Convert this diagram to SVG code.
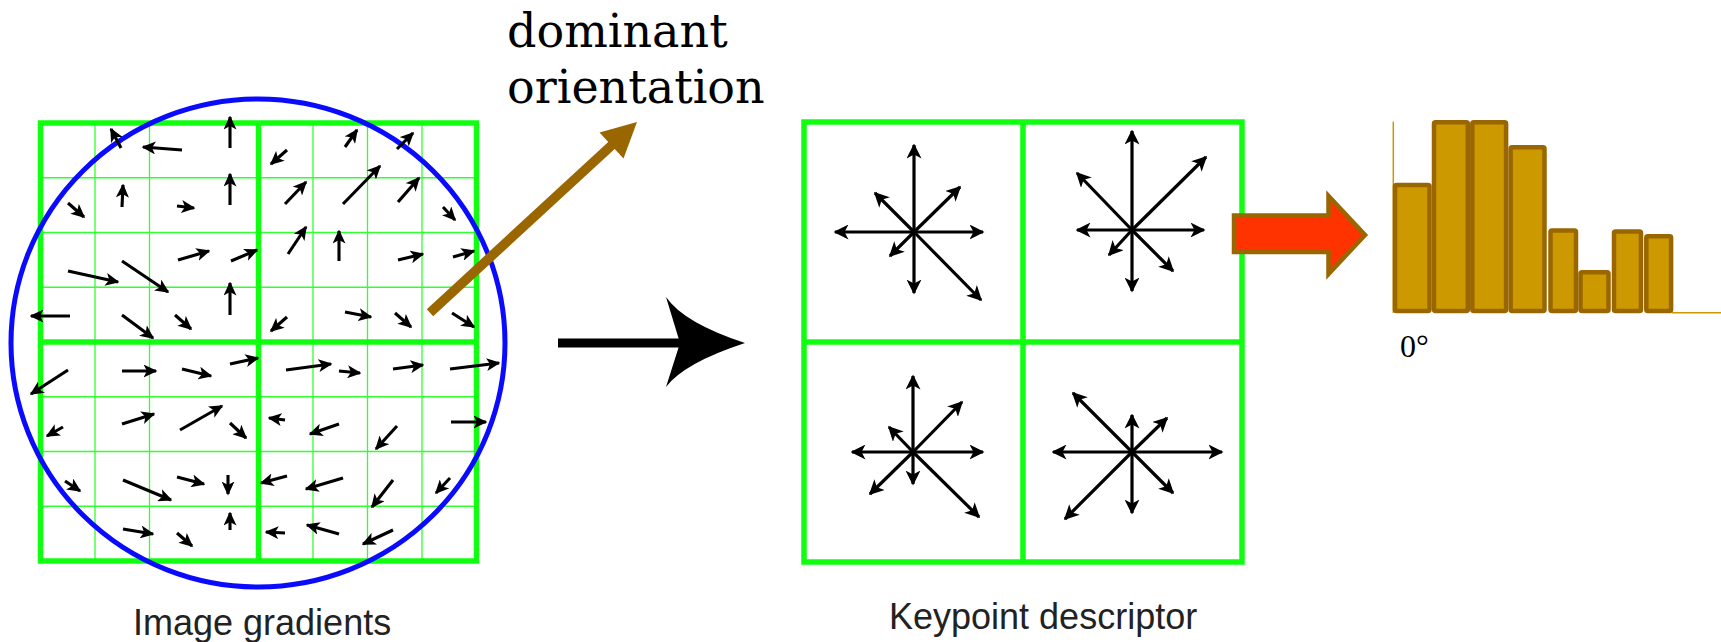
<svg xmlns="http://www.w3.org/2000/svg" width="1721" height="642" viewBox="0 0 1721 642">
  <style>
    .thick { stroke: #10ff10; stroke-width: 5.5; fill: none; }
    .thin { stroke: #30ff30; stroke-width: 1.3; fill: none; }
    .grad line { stroke: #000; stroke-width: 3.1; marker-end: url(#ah); }
    .star line { stroke: #000; stroke-width: 3.2; marker-end: url(#ahBig); }
    .bar { fill: #cc9900; stroke: #996600; stroke-width: 4.5; stroke-linejoin: round; }
    .axis { stroke: #cc9900; stroke-width: 1.5; }
    .caption { font-family: "Liberation Sans", Arial, sans-serif; font-size: 36px; fill: #222; }
    .serif { font-family: "DejaVu Serif", "Liberation Serif", serif; fill: #000; }
  </style>
  <defs>
    <marker id="ah" viewBox="0 0 14 13" refX="12.5" refY="6.5" markerWidth="14" markerHeight="13" markerUnits="userSpaceOnUse" orient="auto">
      <path d="M0,0 L14,6.5 L0,13 L3.5,6.5 Z" fill="#000"/>
    </marker>
    <marker id="ahBig" viewBox="0 0 15 15" refX="13.5" refY="7.5" markerWidth="15" markerHeight="15" markerUnits="userSpaceOnUse" orient="auto">
      <path d="M0,0 L15,7.5 L0,15 L4,7.5 Z" fill="#000"/>
    </marker>
  </defs>
  <rect width="1721" height="642" fill="#fff"/>

  <!-- sample grid of image gradients -->
  <g id="gradient-patch">
    <g class="thin">
      <path d="M95,123V561 M149.5,123V561 M313,123V561 M367.5,123V561 M422,123V561"/>
      <path d="M40.5,177.75H476.5 M40.5,232.5H476.5 M40.5,287.25H476.5 M40.5,396.75H476.5 M40.5,451.5H476.5 M40.5,506.25H476.5"/>
    </g>
    <g class="thick">
      <rect x="40.5" y="123" width="436" height="438"/>
      <path d="M258.5,123V561 M40.5,342H476.5"/>
    </g>
    <ellipse cx="258" cy="343" rx="247" ry="244" fill="none" stroke="#0a0aff" stroke-width="5"/>
    <g class="grad">
      <line x1="121" y1="148" x2="111" y2="129"/>
      <line x1="182" y1="150" x2="143" y2="147"/>
      <line x1="230" y1="148" x2="230" y2="117"/>
      <line x1="287" y1="150" x2="271" y2="164"/>
      <line x1="345" y1="147" x2="357" y2="130"/>
      <line x1="397" y1="149" x2="413" y2="133"/>

      <line x1="68" y1="203" x2="84" y2="217"/>
      <line x1="122" y1="207" x2="123" y2="185"/>
      <line x1="177" y1="206" x2="194" y2="208"/>
      <line x1="230" y1="205" x2="230" y2="174"/>
      <line x1="285" y1="204" x2="306" y2="182"/>
      <line x1="343" y1="204" x2="380" y2="166"/>
      <line x1="398" y1="202" x2="419" y2="178"/>
      <line x1="443" y1="207" x2="455" y2="220"/>

      <line x1="68" y1="271" x2="118" y2="282"/>
      <line x1="122" y1="261" x2="168" y2="292"/>
      <line x1="178" y1="260" x2="209" y2="251"/>
      <line x1="231" y1="261" x2="257" y2="250"/>
      <line x1="288" y1="254" x2="306" y2="227"/>
      <line x1="339" y1="261" x2="339" y2="231"/>
      <line x1="398" y1="260" x2="423" y2="254"/>
      <line x1="453" y1="257" x2="474" y2="251"/>

      <line x1="70" y1="316" x2="31" y2="316"/>
      <line x1="122" y1="315" x2="153" y2="338"/>
      <line x1="175" y1="315" x2="191" y2="329"/>
      <line x1="230" y1="315" x2="230" y2="283"/>
      <line x1="287" y1="317" x2="271" y2="331"/>
      <line x1="345" y1="312" x2="371" y2="317"/>
      <line x1="395" y1="313" x2="411" y2="327"/>
      <line x1="452" y1="313" x2="474" y2="327"/>

      <line x1="68" y1="370" x2="31" y2="394"/>
      <line x1="122" y1="371" x2="156" y2="371"/>
      <line x1="182" y1="369" x2="211" y2="376"/>
      <line x1="230" y1="364" x2="258" y2="358"/>
      <line x1="286" y1="370" x2="331" y2="364"/>
      <line x1="339" y1="371" x2="360" y2="373"/>
      <line x1="393" y1="369" x2="423" y2="365"/>
      <line x1="450" y1="369" x2="499" y2="363"/>

      <line x1="63" y1="427" x2="47" y2="436"/>
      <line x1="122" y1="424" x2="154" y2="414"/>
      <line x1="180" y1="430" x2="222" y2="406"/>
      <line x1="230" y1="423" x2="246" y2="438"/>
      <line x1="285" y1="420" x2="269" y2="418"/>
      <line x1="339" y1="424" x2="310" y2="434"/>
      <line x1="397" y1="426" x2="376" y2="449"/>
      <line x1="451" y1="422" x2="486" y2="422"/>

      <line x1="65" y1="481" x2="80" y2="491"/>
      <line x1="123" y1="480" x2="171" y2="500"/>
      <line x1="177" y1="477" x2="204" y2="484"/>
      <line x1="228" y1="475" x2="228" y2="494"/>
      <line x1="287" y1="476" x2="261" y2="483"/>
      <line x1="343" y1="478" x2="306" y2="489"/>
      <line x1="393" y1="480" x2="372" y2="507"/>
      <line x1="450" y1="478" x2="436" y2="493"/>

      <line x1="123" y1="529" x2="153" y2="534"/>
      <line x1="177" y1="533" x2="192" y2="546"/>
      <line x1="230" y1="530" x2="230" y2="513"/>
      <line x1="285" y1="533" x2="266" y2="532"/>
      <line x1="339" y1="534" x2="307" y2="525"/>
      <line x1="393" y1="530" x2="363" y2="544"/>
    </g>
    <text class="caption" x="133" y="635">Image gradients</text>
  </g>

  <!-- dominant orientation annotation -->
  <g id="dominant-orientation">
    <line x1="430" y1="312.7" x2="612" y2="145" stroke="#996600" stroke-width="9.5"/>
    <polygon points="637,122 599.5,132.5 623.5,158.5" fill="#996600"/>
    <text class="serif" font-size="46" x="507" y="47">dominant</text>
    <text class="serif" font-size="46" x="507" y="103">orientation</text>
  </g>

  <!-- 2x2 descriptor with orientation stars -->
  <g id="keypoint-descriptor">
    <g class="thick">
      <rect x="804" y="122" width="438" height="440"/>
      <path d="M1023,122V562 M804,342H1242"/>
    </g>
    <g class="star">
      <line x1="914" y1="232" x2="914" y2="145"/>
      <line x1="914" y1="232" x2="914" y2="293"/>
      <line x1="914" y1="232" x2="835" y2="232"/>
      <line x1="914" y1="232" x2="983" y2="232"/>
      <line x1="914" y1="232" x2="875" y2="193"/>
      <line x1="914" y1="232" x2="960" y2="187"/>
      <line x1="914" y1="232" x2="890" y2="256"/>
      <line x1="914" y1="232" x2="981" y2="300"/>
    </g>
    <g class="star">
      <line x1="1132" y1="230" x2="1132" y2="131"/>
      <line x1="1132" y1="230" x2="1132" y2="291"/>
      <line x1="1132" y1="230" x2="1077" y2="230"/>
      <line x1="1132" y1="230" x2="1204" y2="230"/>
      <line x1="1132" y1="230" x2="1077" y2="173"/>
      <line x1="1132" y1="230" x2="1206" y2="157"/>
      <line x1="1132" y1="230" x2="1109" y2="255"/>
      <line x1="1132" y1="230" x2="1173" y2="271"/>
    </g>
    <g class="star">
      <line x1="913" y1="452" x2="913" y2="376"/>
      <line x1="913" y1="452" x2="913" y2="484"/>
      <line x1="913" y1="452" x2="852" y2="452"/>
      <line x1="913" y1="452" x2="983" y2="452"/>
      <line x1="913" y1="452" x2="889" y2="427"/>
      <line x1="913" y1="452" x2="962" y2="402"/>
      <line x1="913" y1="452" x2="870" y2="494"/>
      <line x1="913" y1="452" x2="979" y2="517"/>
    </g>
    <g class="star">
      <line x1="1132" y1="452" x2="1132" y2="415"/>
      <line x1="1132" y1="452" x2="1132" y2="513"/>
      <line x1="1132" y1="452" x2="1053" y2="452"/>
      <line x1="1132" y1="452" x2="1222" y2="452"/>
      <line x1="1132" y1="452" x2="1073" y2="393"/>
      <line x1="1132" y1="452" x2="1167" y2="418"/>
      <line x1="1132" y1="452" x2="1065" y2="519"/>
      <line x1="1132" y1="452" x2="1173" y2="493"/>
    </g>
    <text class="caption" x="889" y="629">Keypoint descriptor</text>
  </g>

  <!-- orientation histogram -->
  <g id="histogram">
    <line class="axis" x1="1393.3" y1="121.7" x2="1393.3" y2="313"/>
    <line class="axis" x1="1672" y1="312.7" x2="1721" y2="312.7"/>
    <rect class="bar" x="1395" y="185" width="34.5" height="126" rx="1.5"/>
    <rect class="bar" x="1434" y="122.3" width="33.8" height="188.7" rx="1.5"/>
    <rect class="bar" x="1472.3" y="122.3" width="33.8" height="188.7" rx="1.5"/>
    <rect class="bar" x="1510.6" y="147.3" width="33.9" height="163.7" rx="1.5"/>
    <rect class="bar" x="1550.5" y="230.5" width="25.5" height="80.5" rx="1.5"/>
    <rect class="bar" x="1580.5" y="272.3" width="28" height="38.7" rx="1.5"/>
    <rect class="bar" x="1614" y="231.5" width="27" height="79.5" rx="1.5"/>
    <rect class="bar" x="1646.3" y="236.3" width="24.8" height="74.7" rx="1.5"/>
    <text x="1400" y="356.5" font-family="'Liberation Serif', 'Times New Roman', serif" font-size="32" fill="#000">0°</text>
  </g>

  <!-- connectors between the stages -->
  <g id="connectors">
    <rect x="558" y="338.5" width="122" height="9" fill="#000"/>
    <path d="M666,297 Q684,323 745,343 Q684,363 666,387 L680,343 Z" fill="#000"/>
    <polygon points="1234,215.5 1328.5,215.5 1328.5,196 1365,235 1328.5,274 1328.5,252 1234,252" fill="#ff3300" stroke="#996600" stroke-width="4.5"/>
  </g>
</svg>
